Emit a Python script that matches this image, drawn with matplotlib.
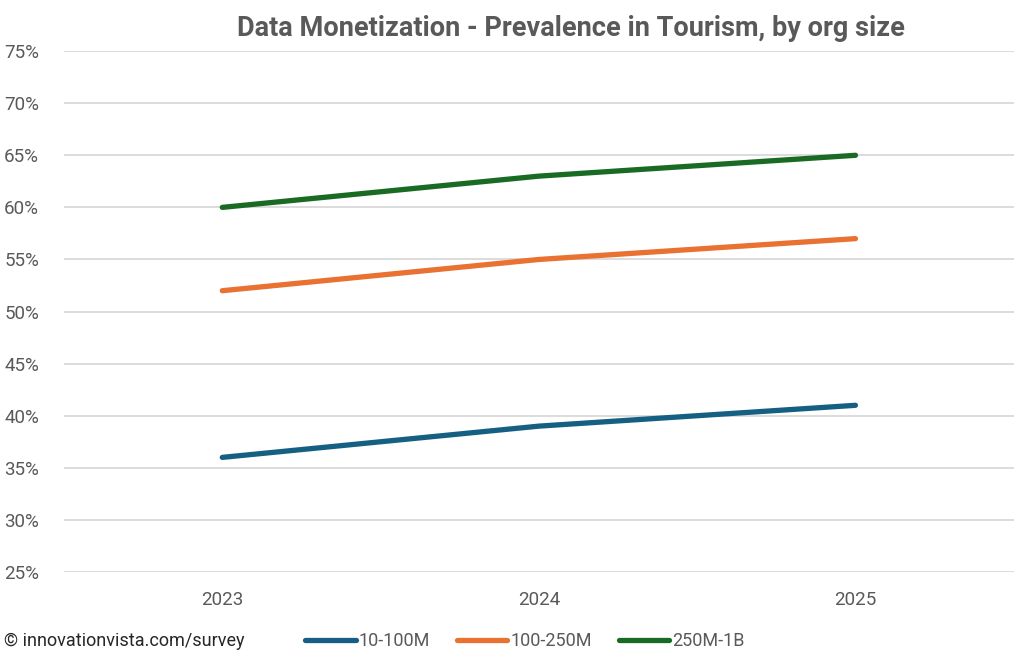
import matplotlib.pyplot as plt
from matplotlib.ticker import PercentFormatter

plt.rcParams['font.family'] = ['Liberation Sans Narrow', 'Roboto', 'DejaVu Sans']

years = ['2023', '2024', '2025']
series_names = ['10-100M', '100-250M', '250M-1B']
small = [36, 39, 41]
mid = [52, 55, 57]
large = [60, 63, 65]
colors = ['#156082', '#E97132', '#196B24']

fig = plt.figure(figsize=(10.24, 6.64), dpi=100)
ax = fig.add_axes([0.0625, 0.1386, 0.9275, 0.7844])

x = range(len(years))
for vals, name, c in zip([small, mid, large], series_names, colors):
    ax.plot(x, vals, color=c, lw=3.8, solid_capstyle='round', label=name)

ax.set_xlim(-0.5, 2.5)
ax.set_ylim(25, 75)
ax.set_yticks(range(25, 80, 5))
ax.yaxis.set_major_formatter(PercentFormatter(decimals=0))
ax.set_xticks(list(x))
ax.set_xticklabels(years)
ax.grid(axis='y', color='#d9d9d9', lw=1.3)
ax.set_axisbelow(True)
for s in ax.spines.values():
    s.set_visible(False)
ax.tick_params(length=0, labelsize=13.5, colors='#595959')
ax.tick_params(axis='x', pad=14)
ax.tick_params(axis='y', pad=18)

fig.text(0.558, 0.978, 'Data Monetization - Prevalence in Tourism, by org size',
         ha='center', va='top', fontsize=19.5, fontweight='bold', color='#595959')
fig.text(0.004, 0.034, '© innovationvista.com/survey', ha='left', va='center',
         fontsize=13, color='#262626')
fig.legend(loc='center left', bbox_to_anchor=(0.282, 0.034), ncol=3, frameon=False,
           fontsize=13, handlelength=2.8, handletextpad=0.15, columnspacing=1.5,
           labelcolor='#595959')

fig.savefig('out.png')
